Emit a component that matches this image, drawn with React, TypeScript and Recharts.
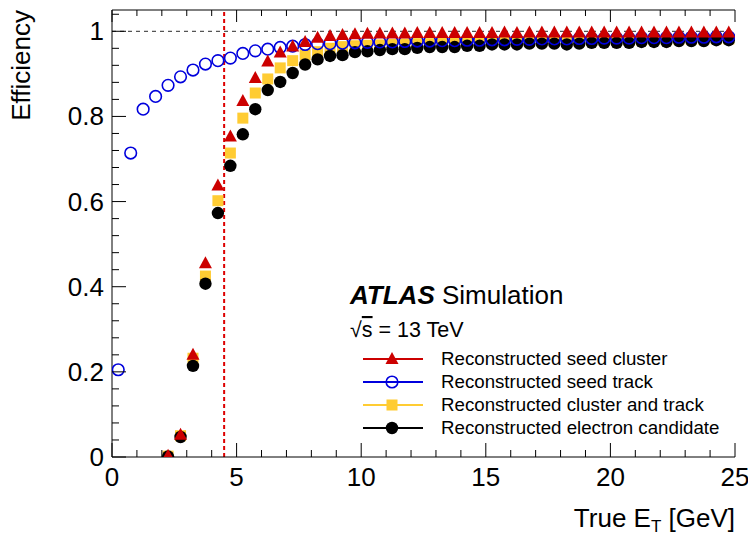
import { ComposedChart, Scatter, XAxis, YAxis, ReferenceLine } from "recharts";

const FONT = "'Liberation Sans', Arial, Helvetica, sans-serif";
const RED = "#cc0000";
const BLUE = "#0000dd";
const YELLOW = "#ffcc33";
const BLACK = "#000000";

// bin centres of true E_T [GeV]
const binCenters = [
  0.25, 0.75, 1.25, 1.75, 2.25, 2.75, 3.25, 3.75, 4.25, 4.75,
  5.25, 5.75, 6.25, 6.75, 7.25, 7.75, 8.25, 8.75, 9.25, 9.75,
  10.25, 10.75, 11.25, 11.75, 12.25, 12.75, 13.25, 13.75, 14.25, 14.75,
  15.25, 15.75, 16.25, 16.75, 17.25, 17.75, 18.25, 18.75, 19.25, 19.75,
  20.25, 20.75, 21.25, 21.75, 22.25, 22.75, 23.25, 23.75, 24.25, 24.75,
];

const seedCluster = [
  null, null, null, null, 0.003, 0.052, 0.240, 0.455, 0.638, 0.753,
  0.836, 0.890, 0.929, 0.950, 0.964, 0.975, 0.985, 0.989, 0.991, 0.993,
  0.994, 0.995, 0.995, 0.995, 0.996, 0.996, 0.996, 0.996, 0.996, 0.996,
  0.996, 0.997, 0.996, 0.997, 0.997, 0.997, 0.997, 0.997, 0.997, 0.997,
  0.997, 0.997, 0.997, 0.997, 0.997, 0.997, 0.997, 0.997, 0.997, 0.997,
];

const seedTrack = [
  0.205, 0.714, 0.817, 0.847, 0.873, 0.893, 0.909, 0.923, 0.931, 0.937,
  0.948, 0.954, 0.958, 0.962, 0.965, 0.969, 0.971, 0.971, 0.972, 0.973,
  0.974, 0.975, 0.975, 0.976, 0.977, 0.977, 0.978, 0.978, 0.979, 0.979,
  0.980, 0.980, 0.981, 0.981, 0.982, 0.982, 0.982, 0.983, 0.983, 0.984,
  0.984, 0.984, 0.985, 0.985, 0.985, 0.986, 0.986, 0.986, 0.987, 0.987,
];

const clusterAndTrack = [
  null, null, null, null, 0.002, 0.050, 0.232, 0.425, 0.602, 0.714,
  0.796, 0.855, 0.888, 0.914, 0.931, 0.945, 0.952, 0.960, 0.964, 0.966,
  0.967, 0.968, 0.969, 0.970, 0.971, 0.971, 0.972, 0.973, 0.973, 0.974,
  0.975, 0.975, 0.976, 0.976, 0.977, 0.977, 0.977, 0.977, 0.978, 0.978,
  0.979, 0.979, 0.979, 0.980, 0.980, 0.981, 0.981, 0.981, 0.982, 0.982,
];

const electronCandidate = [
  null, null, null, null, 0.001, 0.047, 0.214, 0.407, 0.573, 0.684,
  0.758, 0.817, 0.862, 0.881, 0.902, 0.922, 0.934, 0.942, 0.944, 0.951,
  0.953, 0.956, 0.958, 0.958, 0.961, 0.963, 0.963, 0.963, 0.966, 0.966,
  0.969, 0.969, 0.969, 0.971, 0.971, 0.971, 0.969, 0.971, 0.973, 0.973,
  0.973, 0.973, 0.975, 0.975, 0.975, 0.977, 0.977, 0.977, 0.979, 0.979,
];

const xTicks = [0, 1, 2, 3, 4, 5, 6, 7, 8, 9, 10, 11, 12, 13, 14, 15, 16, 17, 18, 19, 20, 21, 22, 23, 24, 25];
const yTicks = [
  0, 0.04, 0.08, 0.12, 0.16, 0.2, 0.24, 0.28, 0.32, 0.36, 0.4, 0.44, 0.48, 0.52,
  0.56, 0.6, 0.64, 0.68, 0.72, 0.76, 0.8, 0.84, 0.88, 0.92, 0.96, 1, 1.04,
];

const legendLabels = [
  "Reconstructed seed cluster",
  "Reconstructed seed track",
  "Reconstructed cluster and track",
  "Reconstructed electron candidate",
];

const toPoints = (vals: (number | null)[]) =>
  binCenters.map((x, i) => ({ x, y: vals[i] })).filter((p) => p.y !== null);

const isMajorX = (v: number) => v % 5 === 0;
const isMajorY = (v: number) => Math.abs(v * 5 - Math.round(v * 5)) < 1e-6;

const Triangle = ({ cx, cy, color }: any) => (
  <polygon points={`${cx},${cy - 7} ${cx - 6.5},${cy + 5} ${cx + 6.5},${cy + 5}`} fill={color} />
);
const OpenCircle = ({ cx, cy, color }: any) => (
  <circle cx={cx} cy={cy} r={5.8} fill="none" stroke={color} strokeWidth={1.6} />
);
const Square = ({ cx, cy, color }: any) => (
  <rect x={cx - 5.5} y={cy - 5.5} width={11} height={11} fill={color} />
);
const Dot = ({ cx, cy, color }: any) => <circle cx={cx} cy={cy} r={6.2} fill={color} />;

const BottomTick = ({ x, y, payload }: any) => {
  const major = isMajorX(payload.value);
  return (
    <g>
      <line x1={x} y1={y} x2={x} y2={y - (major ? 14 : 7)} stroke="#000" />
      {major && (
        <text x={x} y={y + 29} textAnchor="middle" fontSize={26} fontFamily={FONT} fill="#000">
          {payload.value}
        </text>
      )}
    </g>
  );
};

const TopTick = ({ x, y, payload }: any) => {
  const major = isMajorX(payload.value);
  return <line x1={x} y1={y} x2={x} y2={y + (major ? 12 : 6)} stroke="#000" />;
};

const LeftTick = ({ x, y, payload }: any) => {
  const major = isMajorY(payload.value);
  return (
    <g>
      <line x1={x} y1={y} x2={x + (major ? 14 : 7)} y2={y} stroke="#000" />
      {major && (
        <text x={x - 8} y={y + 9} textAnchor="end" fontSize={26} fontFamily={FONT} fill="#000">
          {String(Math.round(payload.value * 10) / 10)}
        </text>
      )}
    </g>
  );
};

const RightTick = ({ x, y, payload }: any) => {
  const major = isMajorY(payload.value);
  return <line x1={x} y1={y} x2={x - (major ? 14 : 7)} y2={y} stroke="#000" />;
};

const legendMarkers = [
  (cx: number, cy: number) => <Triangle cx={cx} cy={cy} color={RED} />,
  (cx: number, cy: number) => <OpenCircle cx={cx} cy={cy} color={BLUE} />,
  (cx: number, cy: number) => <Square cx={cx} cy={cy} color={YELLOW} />,
  (cx: number, cy: number) => <Dot cx={cx} cy={cy} color={BLACK} />,
];
const legendColors = [RED, BLUE, YELLOW, BLACK];

export default function App() {
  return (
    <div style={{ position: "absolute", left: 0, top: 0, width: 748, height: 535, background: "#fff" }}>
      <ComposedChart width={748} height={535} margin={{ top: 0, right: 13, bottom: 0, left: 0 }}>
        <XAxis
          xAxisId="b"
          type="number"
          dataKey="x"
          domain={[0, 25]}
          ticks={xTicks}
          interval={0}
          height={78}
          tickSize={0}
          tickMargin={0}
          axisLine={{ stroke: "#000" }}
          tickLine={false}
          tick={(p: any) => <BottomTick {...p} />}
          allowDataOverflow
        />
        <XAxis
          xAxisId="t"
          orientation="top"
          type="number"
          dataKey="x"
          domain={[0, 25]}
          ticks={xTicks}
          interval={0}
          height={10}
          tickSize={0}
          tickMargin={0}
          axisLine={{ stroke: "#000" }}
          tickLine={false}
          tick={(p: any) => <TopTick {...p} />}
          allowDataOverflow
        />
        <YAxis
          yAxisId="l"
          type="number"
          domain={[0, 1.05]}
          ticks={yTicks}
          interval={0}
          width={112}
          tickSize={0}
          tickMargin={0}
          axisLine={{ stroke: "#000" }}
          tickLine={false}
          tick={(p: any) => <LeftTick {...p} />}
          allowDataOverflow
        />
        <YAxis
          yAxisId="r"
          orientation="right"
          type="number"
          domain={[0, 1.05]}
          ticks={yTicks}
          interval={0}
          width={0}
          tickSize={0}
          tickMargin={0}
          axisLine={{ stroke: "#000" }}
          tickLine={false}
          tick={(p: any) => <RightTick {...p} />}
          allowDataOverflow
        />
        <ReferenceLine xAxisId="b" yAxisId="l" y={1} stroke="#555" strokeDasharray="4 4" strokeWidth={1.2} />
        <ReferenceLine xAxisId="b" yAxisId="l" x={4.5} stroke="#dd0000" strokeDasharray="4 3" strokeWidth={2} />
        <Scatter
          xAxisId="b"
          yAxisId="l"
          data={toPoints(clusterAndTrack)}
          dataKey="y"
          isAnimationActive={false}
          shape={(p: any) => <Square cx={p.cx} cy={p.cy} color={YELLOW} />}
        />
        <Scatter
          xAxisId="b"
          yAxisId="l"
          data={toPoints(electronCandidate)}
          dataKey="y"
          isAnimationActive={false}
          shape={(p: any) => <Dot cx={p.cx} cy={p.cy} color={BLACK} />}
        />
        <Scatter
          xAxisId="b"
          yAxisId="l"
          data={toPoints(seedTrack)}
          dataKey="y"
          isAnimationActive={false}
          shape={(p: any) => <OpenCircle cx={p.cx} cy={p.cy} color={BLUE} />}
        />
        <Scatter
          xAxisId="b"
          yAxisId="l"
          data={toPoints(seedCluster)}
          dataKey="y"
          isAnimationActive={false}
          shape={(p: any) => <Triangle cx={p.cx} cy={p.cy} color={RED} />}
        />
      </ComposedChart>
      <svg
        width={748}
        height={535}
        style={{ position: "absolute", left: 0, top: 0, pointerEvents: "none" }}
        fontFamily={FONT}
      >
        <text x={30} y={10} transform="rotate(-90, 30, 10)" textAnchor="end" fontSize={26} fill="#000">
          Efficiency
        </text>
        <text x={735} y={527} textAnchor="end" fontSize={26} fill="#000">
          True E<tspan fontSize={17} dy={5}>T</tspan>
          <tspan dy={-5}> [GeV]</tspan>
        </text>
        <text x={350} y={304} fontSize={26} fill="#000">
          <tspan fontWeight="bold" fontStyle="italic">ATLAS</tspan>
          <tspan> Simulation</tspan>
        </text>
        <text x={350} y={337} fontSize={21.5} fill="#000">
          √<tspan textDecoration="overline">s</tspan> = 13 TeV
        </text>
        {legendLabels.map((label, i) => {
          const cy = 359 + i * 23;
          return (
            <g key={label}>
              <line x1={363} y1={cy} x2={423} y2={cy} stroke={legendColors[i]} strokeWidth={2} />
              {legendMarkers[i](392, cy)}
              <text x={441} y={cy + 6} fontSize={18.7} fill="#000">
                {label}
              </text>
            </g>
          );
        })}
      </svg>
    </div>
  );
}
